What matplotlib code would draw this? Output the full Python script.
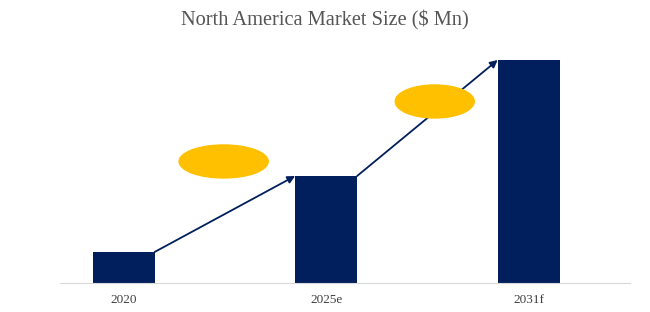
import matplotlib.pyplot as plt
from matplotlib.patches import Ellipse

# data (relative market size)
years = ["2020", "2025e", "2031f"]
values = [13.9, 48.0, 100.0]

# decoration ellipses (data coords: x, y, width)
bubble_x = [0.494, 1.536]
bubble_y = [54.5, 81.4]
bubble_w = [0.44, 0.39]

navy = "#001f5c"
gold = "#ffc000"
bar_w = 0.306

fig = plt.figure(figsize=(6.5, 3.12), dpi=100)
ax = fig.add_axes([60 / 650, 29 / 312, 570 / 650, 243 / 312])

x = list(range(len(years)))
ax.bar(x, values, width=bar_w, color=navy, zorder=2)

# arrows from top-right corner of one bar to top-left of the next
for i in range(len(values) - 1):
    ax.annotate("", xy=(x[i + 1] - bar_w / 2, values[i + 1]),
                xytext=(x[i] + bar_w / 2, values[i]),
                arrowprops=dict(arrowstyle="-|>", color=navy, lw=1.3,
                                mutation_scale=11, shrinkA=0, shrinkB=0),
                zorder=3)

for bx, by, bw in zip(bubble_x, bubble_y, bubble_w):
    ax.add_patch(Ellipse((bx, by), bw, 14.8, color=gold, zorder=4))

ax.set_xlim(-0.314, 2.5)
ax.set_ylim(0, 100 * 243 / 223)
ax.set_xticks(x)
ax.set_xticklabels(years, fontfamily="Liberation Serif", fontsize=9.5, color="#404040")
ax.tick_params(axis="x", length=0, pad=8)
ax.set_yticks([])
for s in ["top", "right", "left"]:
    ax.spines[s].set_visible(False)
ax.spines["bottom"].set_color("#d9d9d9")

fig.text(0.5, 1 - 20 / 312, "North America Market Size ($ Mn)", ha="center", va="center",
         fontfamily="Liberation Serif", fontsize=14.7, color="#555555")

fig.savefig("out.png", dpi=100)
